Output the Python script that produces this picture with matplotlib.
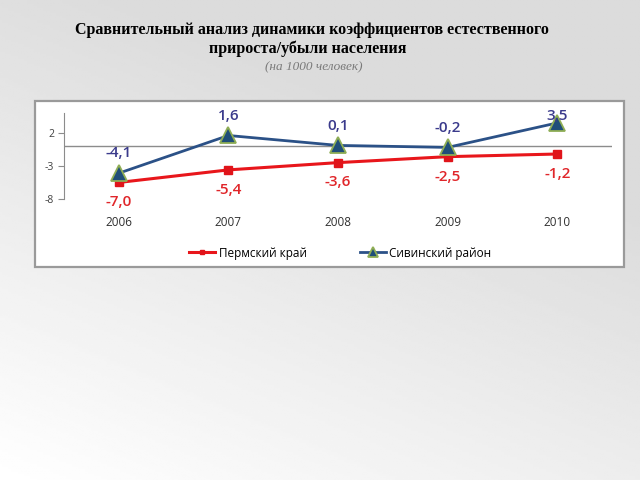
import numpy as np
import matplotlib
matplotlib.use("Agg")
import matplotlib.pyplot as plt
from matplotlib.patches import Rectangle

plt.rcParams['font.family'] = ['Open Sans', 'DejaVu Sans']

years = ['2006', '2007', '2008', '2009', '2010']
perm = [-5.5, -3.6, -2.5, -1.6, -1.2]          # marker positions as drawn
perm_labels = ['-7,0', '-5,4', '-3,6', '-2,5', '-1,2']
sivin = [-4.1, 1.6, 0.1, -0.2, 3.5]
sivin_labels = ['-4,1', '1,6', '0,1', '-0,2', '3,5']
yticks = [-8, -3, 2]

fig = plt.figure(figsize=(6.4, 4.8), dpi=100)

# slide background: diagonal grey gradient
bg = fig.add_axes([0, 0, 1, 1], zorder=-10)
gx, gy = np.meshgrid(np.linspace(0, 1, 200), np.linspace(0, 1, 200))
shade = 1.0 - 0.14 * np.clip(0.5 * gx + 0.9 * gy, 0, 1)
bg.imshow(shade, cmap='gray', vmin=0, vmax=1, origin='lower',
          extent=[0, 1, 0, 1], aspect='auto')
bg.axis('off')

# white chart box
fig.patches.append(Rectangle((35 / 640, 1 - 267 / 480), 589 / 640, 166 / 480,
                             transform=fig.transFigure, facecolor='white',
                             edgecolor='#9a9a9a', lw=1.6, zorder=-5))

fig.text(0.487, 0.937, 'Сравнительный анализ динамики коэффициентов естественного',
         ha='center', va='center', family='Liberation Serif', weight='bold', fontsize=11.5)
fig.text(0.481, 0.899, 'прироста/убыли населения',
         ha='center', va='center', family='Liberation Serif', weight='bold', fontsize=11.5)
fig.text(0.49, 0.860, '(на 1000 человек)', ha='center', va='center',
         family='Liberation Serif', style='italic', fontsize=9.5, color='#7a7a7a')

ax = fig.add_axes([64 / 640, 1 - 199 / 480, 548 / 640, 86 / 480])
ax.patch.set_alpha(0)
x = np.arange(len(years))

ax.axhline(0, color='#8c8c8c', lw=1, zorder=1)
ax.plot(x, perm, color='#e8161b', lw=2.2, marker='s', ms=6,
        mfc='#e0141a', mec='#e0141a', label='Пермский край', zorder=3)
ax.plot(x, sivin, color='#2b5187', lw=2, marker='^', ms=12,
        mfc='#1f4e79', mec='#8fae55', mew=1.3, label='Сивинский район', zorder=4)

for xi, v, t in zip(x, perm, perm_labels):
    ax.text(xi, v - 3.0, t, ha='center', va='center', fontsize=11,
            weight='semibold', color='#e0262a')
for xi, v, t in zip(x, sivin, sivin_labels):
    ax.text(xi, min(v + 3.0, 4.5), t, ha='center', va='center', fontsize=11,
            weight='semibold', color='#3b3b8c', zorder=5)

ax.set_xlim(-0.5, 4.5)
ax.set_ylim(-8, 5)
ax.set_yticks(yticks)
ax.set_yticklabels([str(t) for t in yticks], fontsize=7.5, color='#404040')
ax.set_xticks(x)
ax.set_xticklabels(years, fontsize=8.5, color='#303030')
ax.tick_params(axis='x', length=0, pad=12)
ax.tick_params(axis='y', length=4, direction='out', color='#8c8c8c', pad=3)
for s in ['top', 'right', 'bottom']:
    ax.spines[s].set_visible(False)
ax.spines['left'].set_color('#8c8c8c')

fig.legend(loc='center', bbox_to_anchor=(0.532, 1 - 253 / 480), ncol=2,
           frameon=False, fontsize=8.5, handlelength=2.2, handletextpad=0.3,
           columnspacing=4.5, markerscale=0.6)

fig.savefig('out.png', dpi=100)
